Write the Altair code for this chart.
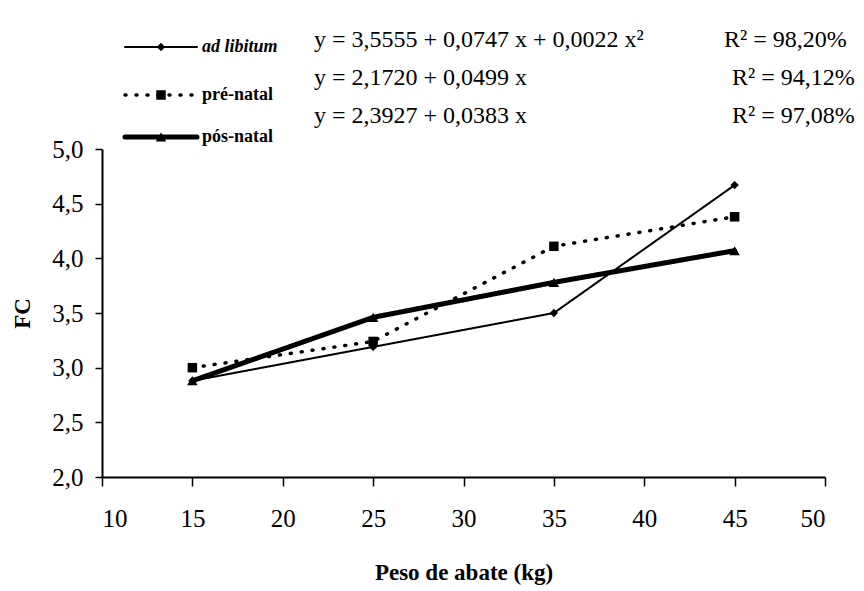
import altair as alt
import pandas as pd

# ---- data ----
peso = [15, 25, 35, 45]
ad_libitum = [2.88, 3.19, 3.50, 4.67]
pre_natal = [3.00, 3.24, 4.11, 4.38]
pos_natal = [2.88, 3.46, 3.78, 4.07]
series_names = ["ad libitum", "pré-natal", "pós-natal"]
equations = [
    "y = 3,5555 + 0,0747 x + 0,0022 x²",
    "y = 2,1720 + 0,0499 x",
    "y = 2,3927 + 0,0383 x",
]
r2_labels = ["R² = 98,20%", "R² = 94,12%", "R² = 97,08%"]
x_ticks = [10, 15, 20, 25, 30, 35, 40, 45, 50]
y_ticks = [2.0, 2.5, 3.0, 3.5, 4.0, 4.5, 5.0]

# ---- layout / style (not data) ----
W, H = 723, 328
PAD_L, PAD_T = 94, 141
TOTAL_W, TOTAL_H = 848, 583
FONT = "Liberation Serif"

styles = {
    "ad libitum": dict(width=2, dash=[1, 0], shape="diamond", size=70),
    "pré-natal": dict(width=3.5, dash=[1, 10], shape="square", size=90),
    "pós-natal": dict(width=5, dash=[1, 0], shape="triangle-up", size=110),
}

df = pd.DataFrame({
    "peso": peso * 3,
    "fc": ad_libitum + pre_natal + pos_natal,
    "serie": [n for n in series_names for _ in peso],
})

x_enc = alt.X(
    "peso:Q",
    scale=alt.Scale(domain=[10, 50], nice=False, zero=False),
    axis=alt.Axis(
        values=x_ticks, format="d", title="Peso de abate (kg)",
        tickSize=9, labelPadding=20, titleX=W / 2, titleY=95,
        titleBaseline="middle", titleAlign="center",
    ),
)
y_enc = alt.Y(
    "fc:Q",
    scale=alt.Scale(domain=[2, 5], nice=False, zero=False),
    axis=alt.Axis(
        values=y_ticks, title="FC",
        labelExpr="replace(format(datum.value, '.1f'), '.', ',')",
        tickSize=7, labelPadding=12, titleX=-80, titleY=H / 2,
        titleBaseline="middle", titleAlign="center", titleAngle=-90,
    ),
)

layers = []
for name in series_names:
    st = styles[name]
    sub = df[df["serie"] == name]
    base = alt.Chart(sub)
    line = base.mark_line(
        color="black", strokeWidth=st["width"], strokeDash=st["dash"],
        strokeCap="round",
    ).encode(x=x_enc, y=y_enc)
    pts = base.mark_point(
        shape=st["shape"], size=st["size"], filled=True, color="black", opacity=1,
    ).encode(x="peso:Q", y="fc:Q")
    layers += [line, pts]

# ---- manual legend and equations (annotation positions in pixels) ----
leg_y = [-102, -54, -12]
eq_y = [-109, -71, -33]
r2_x = [622, 630, 630]
one = pd.DataFrame({"k": [0]})
for i, name in enumerate(series_names):
    st = styles[name]
    layers.append(
        alt.Chart(one).mark_rule(
            color="black", strokeWidth=st["width"], strokeDash=st["dash"],
            strokeCap="round",
        ).encode(x=alt.value(23), x2=alt.value(95), y=alt.value(leg_y[i]))
    )
    layers.append(
        alt.Chart(one).mark_point(
            shape=st["shape"], size=st["size"], filled=True, color="black", opacity=1,
        ).encode(x=alt.value(59), y=alt.value(leg_y[i]))
    )
    layers.append(
        alt.Chart(one).mark_text(
            text=name, font=FONT, fontSize=18, fontWeight="bold",
            fontStyle="italic" if i == 0 else "normal",
            align="left", baseline="middle", color="black",
        ).encode(x=alt.value(100), y=alt.value(leg_y[i]))
    )
    layers.append(
        alt.Chart(one).mark_text(
            text=equations[i], font=FONT, fontSize=24,
            align="left", baseline="middle", color="black",
        ).encode(x=alt.value(212), y=alt.value(eq_y[i]))
    )
    layers.append(
        alt.Chart(one).mark_text(
            text=r2_labels[i], font=FONT, fontSize=24,
            align="left", baseline="middle", color="black",
        ).encode(x=alt.value(r2_x[i]), y=alt.value(eq_y[i]))
    )

chart = alt.layer(*layers).properties(
    width=W, height=H,
    autosize=alt.AutoSizeParams(type="none"),
    padding={"left": PAD_L, "top": PAD_T, "right": TOTAL_W - PAD_L - W,
             "bottom": TOTAL_H - PAD_T - H},
    background="white",
).configure_view(stroke=None).configure_axis(
    grid=False, domainColor="black", domainWidth=2, tickColor="black", tickWidth=1.5,
    labelFont=FONT, labelFontSize=25, labelColor="black",
    titleFont=FONT, titleFontSize=23, titleFontWeight="bold", titleColor="black",
)

chart.save("out.html", embed_options={"renderer": "svg", "actions": False})
